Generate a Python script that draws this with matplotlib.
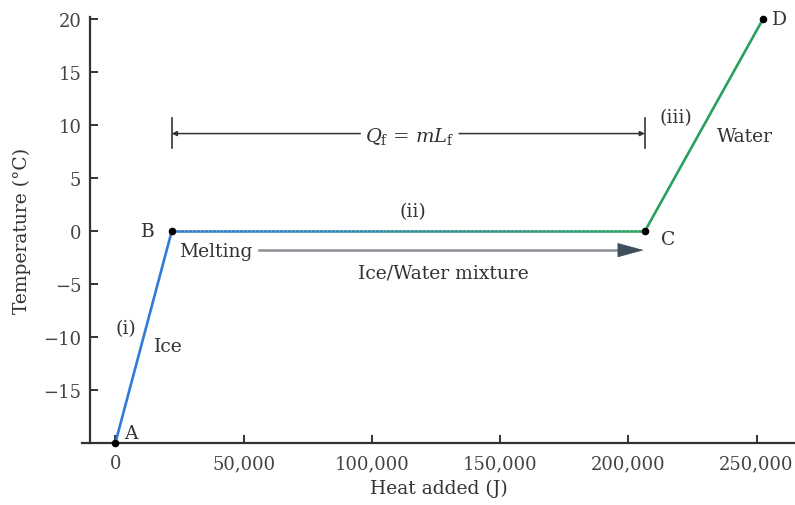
import numpy as np
import matplotlib
matplotlib.use("Agg")
import matplotlib.pyplot as plt
from matplotlib.collections import LineCollection
from matplotlib.colors import LinearSegmentedColormap

# heating curve of ice -> water
heat = [0, 22000, 206500, 252500]      # J  (A, B, C, D)
temp = [-20, 0, 0, 20]                 # deg C
point_names = ["A", "B", "C", "D"]
xticks = [0, 50000, 100000, 150000, 200000, 250000]
xticklabels = ["0", "50,000", "100,000", "150,000", "200,000", "250,000"]
yticks = [-15, -10, -5, 0, 5, 10, 15, 20]
yticklabels = ["\u221215", "\u221210", "\u22125", "0", "5", "10", "15", "20"]

blue = "#2f7bd6"
green = "#2aa05e"
txt = "#333333"
fs = 13.5

plt.rcParams["font.family"] = ["DejaVu Serif"]
plt.rcParams["mathtext.fontset"] = "dejavuserif"

fig = plt.figure(figsize=(7.95, 5.06), dpi=100)
ax = fig.add_axes([82 / 795, 62 / 506, 713 / 795, 426 / 506])
ax.set_xlim(-13000, 265000)
ax.set_ylim(-20, 20.2)

# segments: ice (blue), melting (blue -> green), water (green)
ax.plot(heat[0:2], temp[0:2], color=blue, lw=1.9, solid_capstyle="round", zorder=3)
ax.plot(heat[2:4], temp[2:4], color=green, lw=1.9, solid_capstyle="round", zorder=3)
cmap = LinearSegmentedColormap.from_list("bg", [blue, green])
gx = np.linspace(heat[1], heat[2], 120)
gy = np.full_like(gx, temp[1])
pts = np.column_stack([gx, gy]).reshape(-1, 1, 2)
segs = np.concatenate([pts[:-1], pts[1:]], axis=1)
lc = LineCollection(segs, cmap=cmap, lw=1.9, zorder=3)
lc.set_array(np.linspace(0, 1, len(segs)))
ax.add_collection(lc)

ax.scatter(heat, temp, s=20, color="black", zorder=5, clip_on=False)

# point labels
offs = {"A": (11, 7), "B": (-17, 0), "C": (17, -6), "D": (12, 0)}
for x, y, n in zip(heat, temp, point_names):
    dx, dy = offs[n]
    ax.annotate(n, (x, y), xytext=(dx, dy), textcoords="offset points",
                ha="center", va="center", fontsize=fs, color=txt)

# Q_f bracket
yb = 9.2
for xb in (heat[1], heat[2]):
    ax.plot([xb, xb], [7.8, 10.7], color="#333333", lw=1.2)
ax.annotate("", xy=(heat[1], yb), xytext=(95500, yb),
            arrowprops=dict(arrowstyle="-|>", color="#333333", lw=1.1,
                            mutation_scale=7, shrinkA=0, shrinkB=0))
ax.annotate("", xy=(heat[2], yb), xytext=(134000, yb),
            arrowprops=dict(arrowstyle="-|>", color="#333333", lw=1.1,
                            mutation_scale=7, shrinkA=0, shrinkB=0))
ax.text(114800, yb - 0.15, r"$Q_\mathrm{f}$ = $mL_\mathrm{f}$", ha="center", va="center",
        fontsize=14, color=txt)

# melting arrow: light shaft, dark head
ax.plot([56000, 200000], [-1.8, -1.8], color="#8a9096", lw=1.8, zorder=2)
ax.annotate("", xy=(heat[2] - 500, -1.8), xytext=(198000, -1.8),
            arrowprops=dict(arrowstyle="-|>,head_length=1.1,head_width=0.3",
                            color="#3f4e5a", lw=0.5, mutation_scale=16,
                            shrinkA=0, shrinkB=0))
ax.text(25000, -1.9, "Melting", ha="left", va="center", fontsize=fs, color=txt)
ax.text(128000, -3.9, "Ice/Water mixture", ha="center", va="center",
        fontsize=fs, color=txt)

ax.text(116000, 1.9, "(ii)", ha="center", va="center", fontsize=fs, color=txt)
ax.text(4200, -9.2, "(i)", ha="center", va="center", fontsize=fs, color=txt)
ax.text(20800, -10.8, "Ice", ha="center", va="center", fontsize=fs, color=txt)
ax.text(218500, 10.8, "(iii)", ha="center", va="center", fontsize=fs, color=txt)
ax.text(245500, 9.0, "Water", ha="center", va="center", fontsize=fs, color=txt)

# axes styling
for s in ("top", "right"):
    ax.spines[s].set_visible(False)
ax.spines["left"].set_position(("data", -10000))
ax.spines["left"].set_bounds(-20, 20.2)
for s in ("left", "bottom"):
    ax.spines[s].set_color("#333333")
    ax.spines[s].set_linewidth(1.6)
ax.set_xticks(xticks)
ax.set_xticklabels(xticklabels)
ax.set_yticks(yticks)
ax.set_yticklabels(yticklabels)
ax.tick_params(direction="in", length=6, width=1.4, color="#333333",
               labelsize=13, labelcolor="#444444")
ax.tick_params(axis="x", pad=8)
ax.tick_params(axis="y", pad=6)
ax.set_xlabel("Heat added (J)", fontsize=fs, color=txt, labelpad=5)
ax.set_ylabel("Temperature (\u00b0C)", fontsize=fs, color=txt)
ax.yaxis.set_label_coords(-0.072, 0.5)

fig.savefig("out.png", dpi=100)
